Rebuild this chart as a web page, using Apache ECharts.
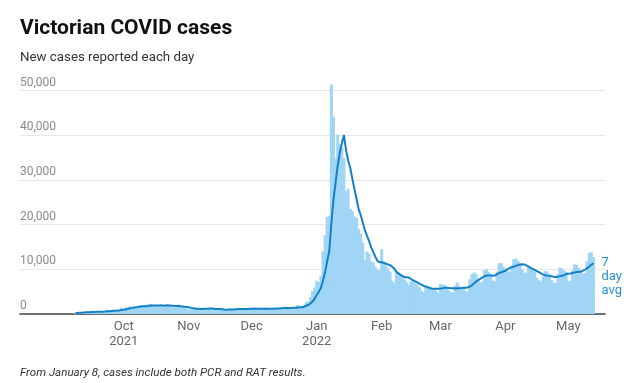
<!DOCTYPE html>
<html><head><meta charset="utf-8">
<script src="https://cdn.jsdelivr.net/npm/echarts@6/dist/echarts.min.js"></script>
<style>html,body{margin:0;padding:0;background:#fff}#c{width:640px;height:383px}</style>
</head><body><div id="c"></div>
<script>
// Axis span (category days) and where the data starts
const axisStart = '2021-08-13';
const axisEnd = '2022-05-18';
const dataStart = '2021-09-08';

// Month tick positions and labels
const tickDates = ['2021-10-01','2021-11-01','2021-12-01','2022-01-01','2022-02-01','2022-03-01','2022-04-01','2022-05-01'];
const tickLabels = ['Oct\n2021','Nov','Dec','Jan\n2022','Feb','Mar','Apr','May'];

// Daily new cases, 8 Sep 2021 – 13 May 2022
const cases = [
  // Sep (8-30)
  324,334,450,392,473,476,445,423,514,510,535,507,567,603,628,766,733,847,779,705,867,950,1438,
  // Oct
  1143,1488,1377,1763,1420,1638,1638,1838,1965,1890,1612,1466,2297,2179,1993,1838,1903,1749,1571,1841,2232,2189,1935,1461,1510,1534,1923,1656,1750,1355,1221,
  // Nov
  989,1069,941,1247,1343,1221,1126,1145,1003,1313,1362,1273,1052,860,1008,833,1007,1029,1026,1188,1029,1057,1041,1254,1252,1187,1061,1077,1121,1188,
  // Dec
  1179,1419,1365,1062,1033,1073,1185,1312,1232,1206,1290,1206,1189,1290,1405,1622,1489,1240,1302,1245,1503,1510,2005,1608,1504,1999,2738,2774,3767,5137,5919,
  // Jan
  7442,7172,8577,14020,17636,21728,21997,51356,44155,34808,40127,37994,37169,34836,27500,28000,23500,23000,21800,21500,19000,18000,16000,12000,14000,13500,11800,11500,10500,10000,9800,
  // Feb
  14500,11700,10800,10200,9500,7400,6900,9600,9200,8500,8400,7700,7100,6500,7400,7200,6900,6600,6000,5200,4800,6300,6100,5800,5700,5600,5200,4700,
  // Mar
  6700,6600,6500,5700,5300,4900,4800,6300,7000,6300,6000,5800,5100,5000,7800,8900,9300,9000,7900,7000,7200,9800,10000,9400,9000,7500,7300,9500,11300,11400,10600,
  // Apr
  10200,9600,9400,10800,12300,12400,11900,11000,10000,9200,9300,10400,10500,10200,9500,8100,7600,7400,8400,9600,9500,9000,7600,7000,6900,8900,10400,10200,9700,9400,
  // May (1-13)
  7400,7300,9800,11100,11000,10300,9300,9000,9200,11800,13700,13800,12700
];

// 7-day average, same dates
const avg7 = [
  221,244,278,307,349,381,413,428,453,462,482,487,500,523,552,588,620,664,703,723,761,807,903,
  961,1053,1138,1289,1368,1467,1495,1595,1663,1736,1714,1721,1815,1892,1915,1896,1898,1918,1933,1868,1875,1903,1917,1854,1820,1815,1826,1744,1681,1598,1564,
  1490,1423,1283,1225,1166,1147,1134,1156,1147,1200,1216,1206,1182,1144,1124,1100,1056,1009,974,993,1017,1024,1054,1089,1121,1144,1126,1133,1142,1163,
  1152,1176,1201,1202,1195,1188,1188,1207,1180,1158,1190,1215,1231,1246,1260,1315,1356,1349,1362,1370,1401,1416,1471,1488,1525,1625,1838,2020,2342,2790,3405,
  4254,4993,5827,7433,9415,11785,14082,20355,25638,29386,33115,36024,38229,40064,36656,34348,32732,30286,27972,25734,23471,22114,20400,18757,17471,16286,14900,13829,12757,11900,11586,
  11657,11400,11257,11071,10929,10557,10143,9443,9086,8757,8500,8243,8200,8143,7829,7543,7314,7057,6814,6543,6300,6143,5986,5829,5700,5643,5643,5629,
  5686,5757,5857,5857,5814,5771,5786,5729,5786,5757,5800,5871,5900,5929,6143,6414,6843,7271,7571,7843,8157,8443,8600,8614,8614,8557,8600,8929,9143,9343,9514,
  9686,9986,10286,10471,10614,10757,10943,11057,11114,11086,10871,10600,10329,10086,9871,9600,9371,9100,8814,8686,8586,8514,8443,8357,8286,8357,8471,8571,8671,8929,
  8986,9043,9171,9271,9386,9471,9457,9686,9957,10243,10614,11014,11357
];

// Build the day categories
function iso(d){ return d.toISOString().slice(0,10); }
const days = [];
for (let d = new Date(axisStart + 'T00:00:00Z'); iso(d) <= axisEnd; d.setUTCDate(d.getUTCDate()+1)) days.push(iso(d));
const offset = days.indexOf(dataStart);
const pad = new Array(offset).fill(null);
const barData = pad.concat(cases);
const lineData = pad.concat(avg7);

const FONT = 'Roboto';
const chart = echarts.init(document.getElementById('c'), null, {renderer:'canvas'});
chart.setOption({
  animation: false,
  backgroundColor: '#ffffff',
  textStyle: {fontFamily: FONT},
  grid: {left: 20, right: 35, top: 90.5, bottom: 69, containLabel: false},
  xAxis: {
    type: 'category',
    data: days,
    boundaryGap: true,
    axisLine: {show: true, lineStyle: {color: '#444', width: 1.6}},
    axisTick: {show: false},
    splitLine: {show: false},
    axisLabel: {
      interval: (i, v) => tickDates.indexOf(v) >= 0,
      formatter: v => { const k = tickDates.indexOf(v); return k >= 0 ? tickLabels[k] : ''; },
      color: '#666', fontSize: 13, lineHeight: 15, margin: 5, fontFamily: FONT
    }
  },
  yAxis: {
    type: 'value', min: 0, max: 50000, interval: 10000,
    axisLine: {show: false}, axisTick: {show: false},
    splitLine: {lineStyle: {color: '#e7e7e7', width: 1}},
    axisLabel: {
      inside: true, margin: 0, verticalAlign: 'bottom', padding: [0,0,2,0],
      color: '#8a8a8a', fontSize: 12, fontFamily: FONT,
      formatter: v => v.toLocaleString('en-US')
    }
  },
  series: [
    {
      type: 'bar', data: barData, barWidth: 3, barGap: '-100%', clip: false,
      itemStyle: {color: '#a0d5f5'}, z: 2, silent: true
    },
    {
      type: 'line', data: lineData, showSymbol: false, symbol: 'none', z: 3,
      lineStyle: {color: '#1380c6', width: 2}, connectNulls: false,
      endLabel: {
        show: true, formatter: '7\nday\navg', color: '#2a90cd', fontSize: 13,
        lineHeight: 13.7, distance: 8, offset: [0, 13.7], fontFamily: FONT
      }
    }
  ],
  graphic: [
    {type: 'text', left: 20, top: 18, style: {text: 'Victorian COVID cases', fill: '#111', font: 'bold 21px Roboto'}},
    {type: 'text', left: 20, top: 51, style: {text: 'New cases reported each day', fill: '#333', font: '13.3px Roboto'}},
    {type: 'text', left: 20, top: 367, style: {text: 'From January 8, cases include both PCR and RAT results.', fill: '#333', font: 'italic 11.6px Roboto'}}
  ]
});
</script>
</body></html>
